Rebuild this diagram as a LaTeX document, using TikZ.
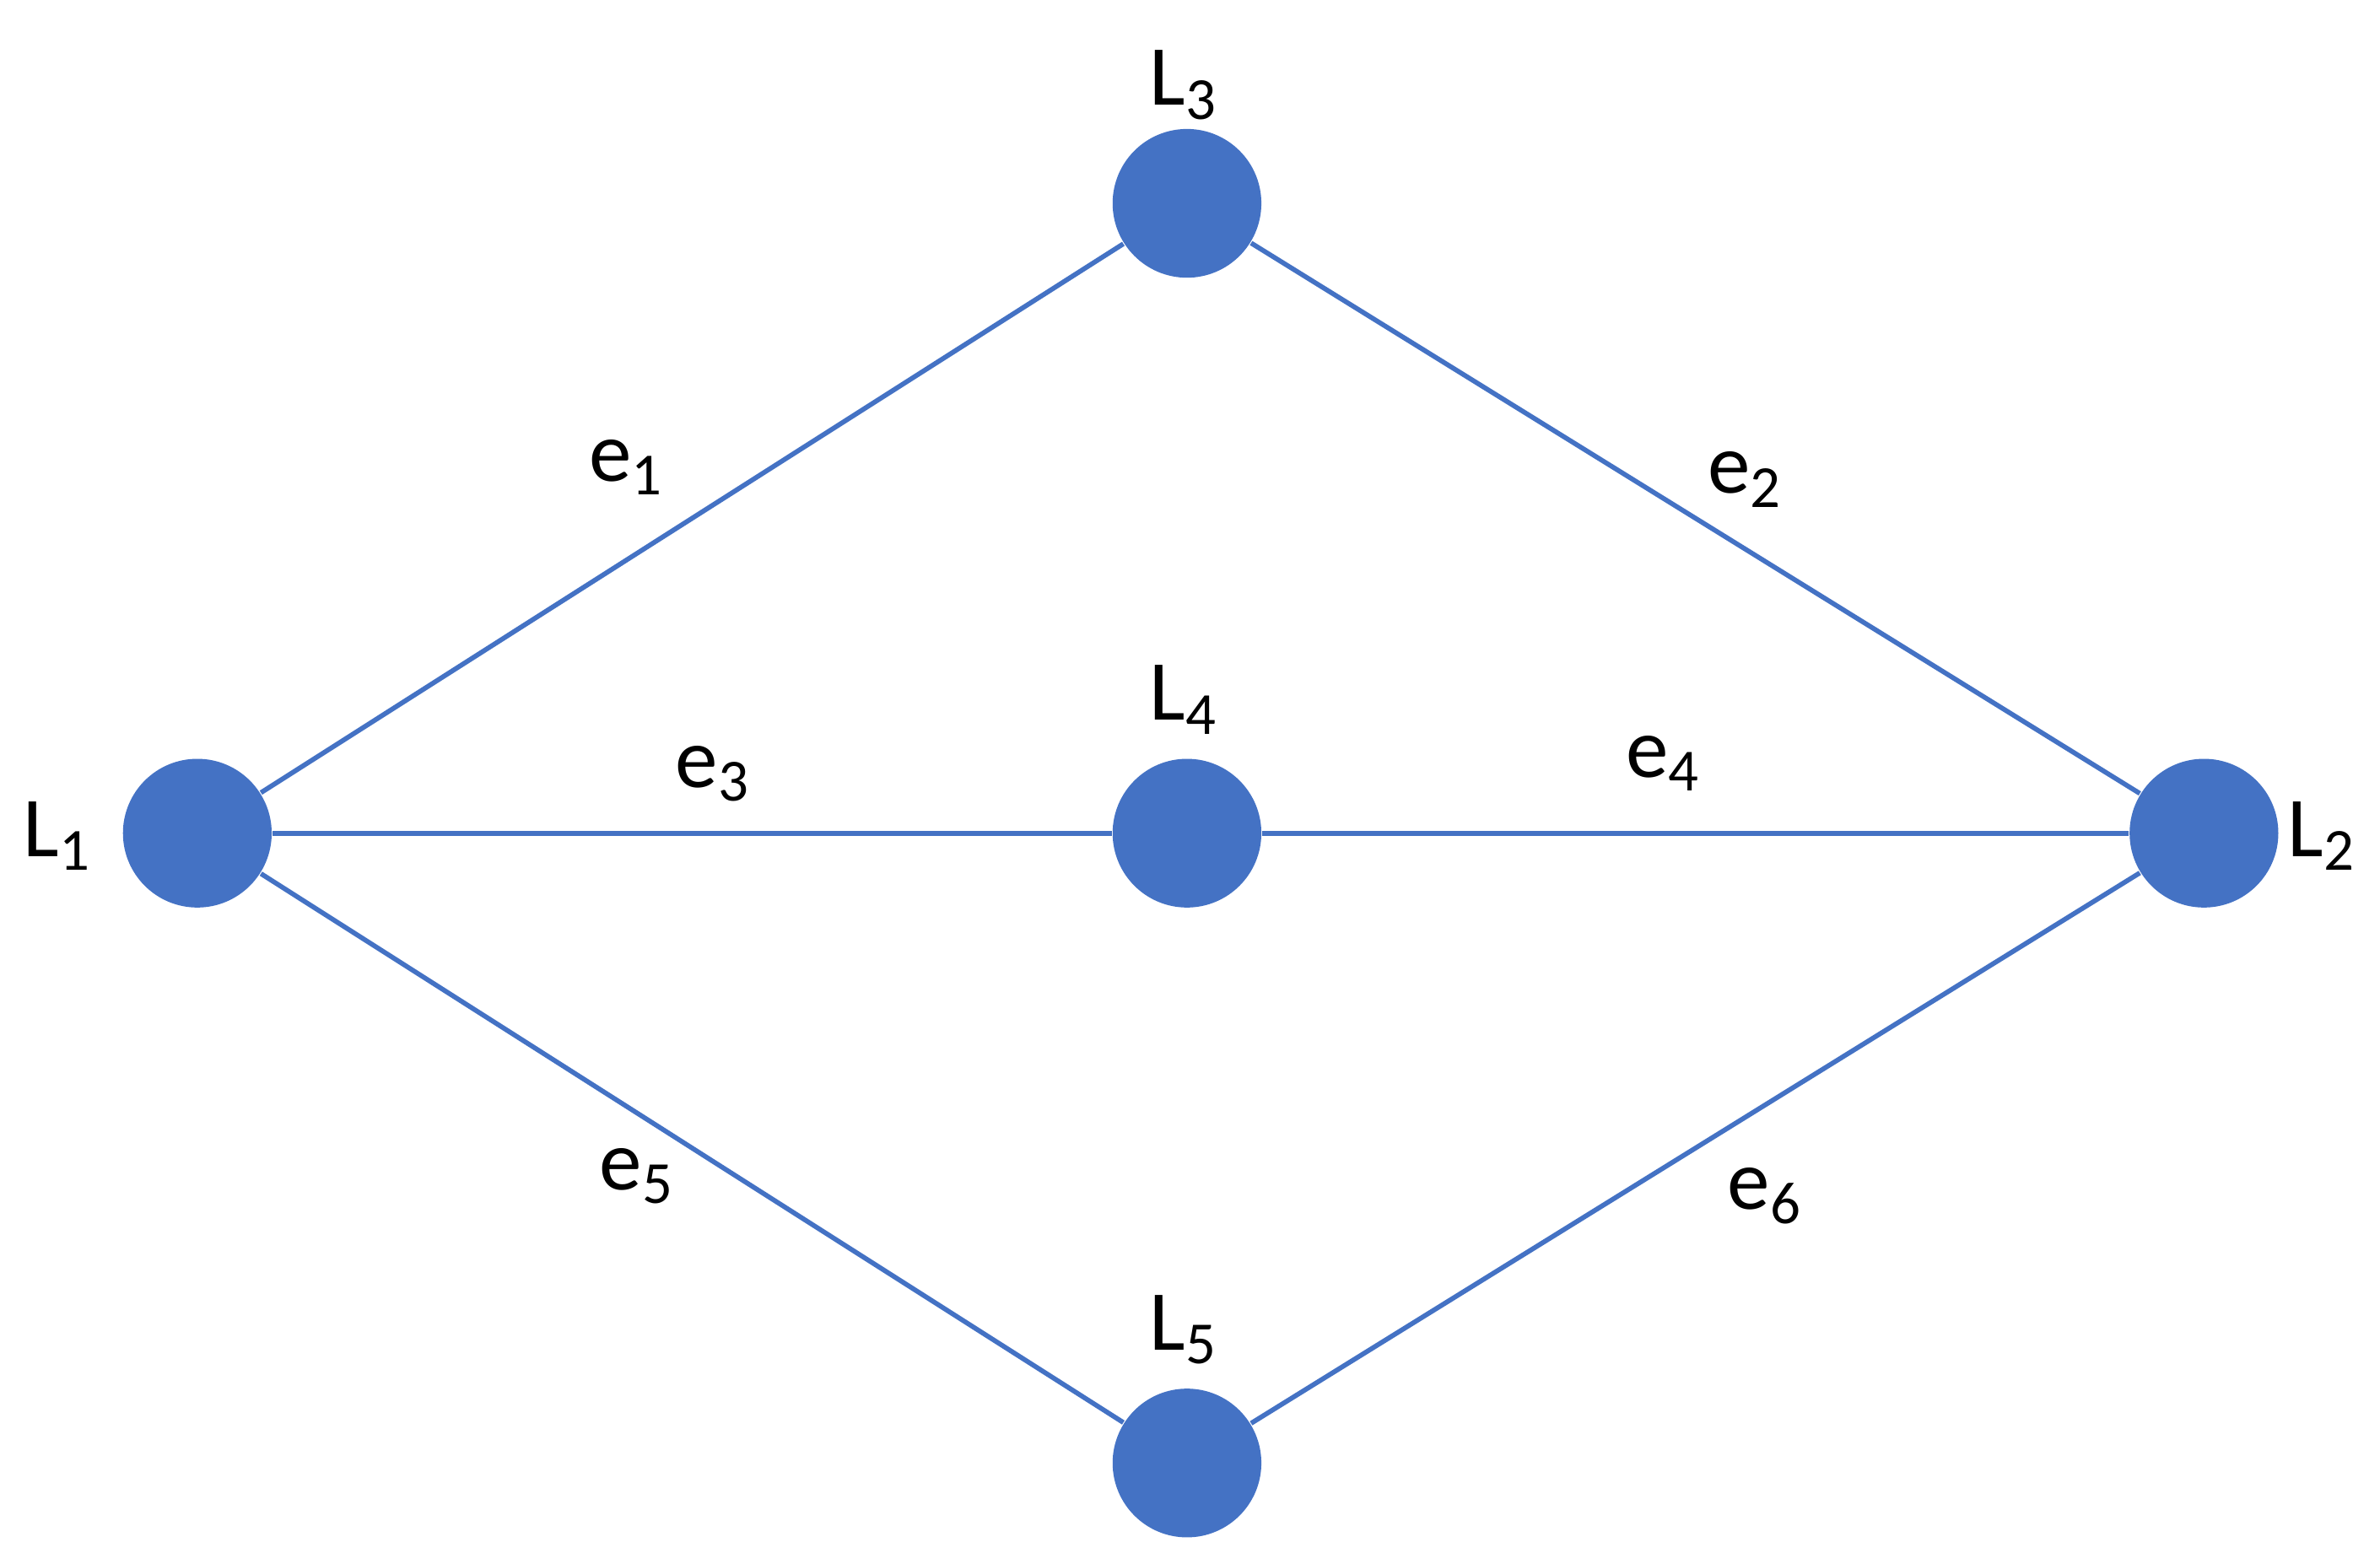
\documentclass[tikz,border=0pt]{standalone}
\usepackage{fontspec}
\setmainfont{Carlito}
\usepackage{tikz}
\definecolor{nodeblue}{HTML}{4472C4}
\tikzset{
  vertex/.style={circle, fill=nodeblue, minimum size=0.98cm, inner sep=0pt},
  edge/.style={draw=nodeblue, line width=0.9pt},
  lbl/.style={font=\fontsize{16}{18}\selectfont}
}
\begin{document}
\begin{tikzpicture}
    \useasboundingbox (0,0) rectangle (15.68,10.23);
    % draw vertices
    \node[vertex] (L1) at (1.30,4.74) {};
    \node[vertex] (L2) at (14.52,4.74) {};
    \node[vertex] (L3) at (7.82,8.89) {};
    \node[vertex] (L4) at (7.82,4.74) {};
    \node[vertex] (L5) at (7.82,0.59) {};

    % draw edges
    \draw[edge] (L1) -- (L3);
    \draw[edge] (L3) -- (L2);
    \draw[edge] (L1) -- (L4);
    \draw[edge] (L4) -- (L2);
    \draw[edge] (L1) -- (L5);
    \draw[edge] (L5) -- (L2);

    % draw vertex labels
    \node[lbl] (t1) at (0.38,4.72) {L\textsubscript{1}};
    \node[lbl] (t2) at (15.30,4.72) {L\textsubscript{2}};
    \node[lbl] (t3) at (7.80,9.67) {L\textsubscript{3}};
    \node[lbl] (t4) at (7.80,5.62) {L\textsubscript{4}};
    \node[lbl] (t5) at (7.80,1.47) {L\textsubscript{5}};

    % draw edge labels
    \node[lbl] (e1) at (4.13,7.15) {e\textsubscript{1}};
    \node[lbl] (e2) at (11.50,7.07) {e\textsubscript{2}};
    \node[lbl] (e3) at (4.70,5.13) {e\textsubscript{3}};
    \node[lbl] (e4) at (10.96,5.20) {e\textsubscript{4}};
    \node[lbl] (e5) at (4.20,2.48) {e\textsubscript{5}};
    \node[lbl] (e6) at (11.63,2.35) {e\textsubscript{6}};
\end{tikzpicture}
\end{document}
